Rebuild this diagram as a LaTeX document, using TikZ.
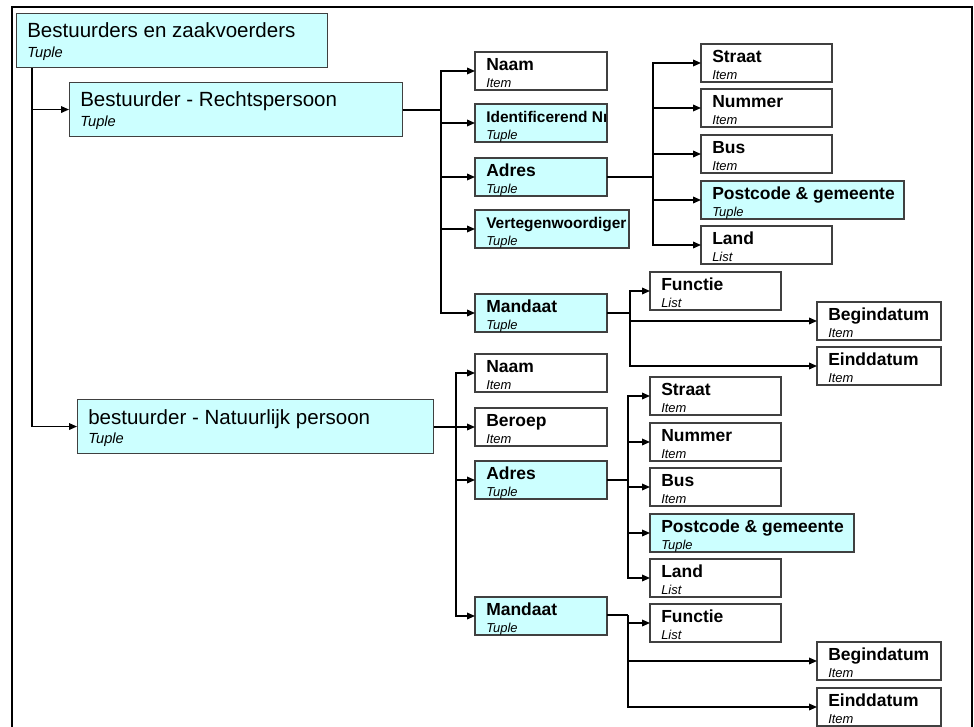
\documentclass[tikz,border=0pt]{standalone}
\usepackage{fontspec}
\setmainfont{Liberation Sans}
\usetikzlibrary{arrows.meta}

\definecolor{tuplefill}{HTML}{CCFFFF}
\definecolor{boxline}{HTML}{404040}

\tikzset{
  x=0.75pt, y=-0.75pt,
  frame/.style={line width=1.6pt, black},
  itembox/.style={fill=white, rectangle, outer sep=0pt,
    inner sep=0pt, anchor=north west, minimum height=38*0.75pt},
  tuplebox/.style={itembox, fill=tuplefill},
  boxborder/.style={draw=boxline, line width=0.8pt},
  bigbox/.style={draw=boxline, line width=0.8pt, fill=tuplefill, rectangle,
    inner sep=0pt, anchor=north west, minimum height=54*0.75pt},
  bigtitle/.style={font=\fontsize{15.4pt}{18pt}\selectfont, inner sep=0pt, anchor=base west},
  bigsub/.style={font=\fontsize{11pt}{13pt}\selectfont\itshape, inner sep=0pt, anchor=base west},
  smalltitle/.style={font=\fontsize{13.1pt}{15pt}\selectfont\bfseries, inner sep=0pt, anchor=base west},
  narrowtitle/.style={font=\fontsize{11.6pt}{14pt}\selectfont\bfseries, inner sep=0pt, anchor=base west},
  smallsub/.style={font=\fontsize{9.7pt}{11pt}\selectfont\itshape, inner sep=0pt, anchor=base west},
  conn/.style={line width=1pt, black, -{Triangle[length=6pt,width=5pt]}},
  stub/.style={line width=1.5pt, black},
}

% #1 name, #2 box style, #3 x, #4 y, #5 width (px), #6 title style, #7 title, #8 subtitle
% the title is clipped to the box, as long names run into the right edge
\newcommand{\fieldbox}[8]{%
  \node[#2, minimum width=#5*0.75pt] (#1) at (#3,#4) {};
  \begin{scope}
    \clip (#1.north west) rectangle (#1.south east);
    \node[#6] at ([shift={(11,18.5)}]#1.north west) {#7};
  \end{scope}
  \draw[boxborder] (#1.north west) rectangle (#1.south east);
  \node[smallsub] at ([shift={(11,35.5)}]#1.north west) {#8};
}
% #1 name, #2 x, #3 y, #4 width (px), #5 title, #6 subtitle
\newcommand{\headbox}[6]{%
  \node[bigbox, minimum width=#4*0.75pt] (#1) at (#2,#3) {};
  \node[bigtitle] at ([shift={(11,25)}]#1.north west) {#5};
  \node[bigsub] at ([shift={(11,44.5)}]#1.north west) {#6};
}

\begin{document}
\begin{tikzpicture}
\useasboundingbox (0,0) rectangle (974,727);

% outer frame, open at the bottom
\draw[frame] (12,728) -- (12,7) -- (972,7) -- (972,728);

% top level and the two kinds of bestuurder
\headbox{root}{16}{13}{311}{Bestuurders en zaakvoerders}{Tuple}
\headbox{rp}{69}{82}{333}{Bestuurder - Rechtspersoon}{Tuple}
\headbox{np}{77}{399}{356}{bestuurder - Natuurlijk persoon}{Tuple}

% Rechtspersoon fields
\fieldbox{rnaam}{itembox}{475}{52}{132}{smalltitle}{Naam}{Item}
\fieldbox{rid}{tuplebox}{475}{104}{132}{narrowtitle}{Identificerend Nr}{Tuple}
\fieldbox{radres}{tuplebox}{475}{158}{132}{smalltitle}{Adres}{Tuple}
\fieldbox{rvert}{tuplebox}{475}{210}{154}{narrowtitle}{Vertegenwoordiger}{Tuple}
\fieldbox{rmand}{tuplebox}{475}{294}{132}{smalltitle}{Mandaat}{Tuple}

% Rechtspersoon address
\fieldbox{rstraat}{itembox}{701}{44}{131}{smalltitle}{Straat}{Item}
\fieldbox{rnummer}{itembox}{701}{89}{131}{smalltitle}{Nummer}{Item}
\fieldbox{rbus}{itembox}{701}{135}{131}{smalltitle}{Bus}{Item}
\fieldbox{rpost}{tuplebox}{701}{181}{203}{smalltitle}{Postcode \& gemeente}{Tuple}
\fieldbox{rland}{itembox}{701}{226}{131}{smalltitle}{Land}{List}

% Rechtspersoon mandate
\fieldbox{rfunctie}{itembox}{650}{272}{131}{smalltitle}{Functie}{List}
\fieldbox{rbegin}{itembox}{817}{302}{124}{smalltitle}{Begindatum}{Item}
\fieldbox{reind}{itembox}{817}{347}{124}{smalltitle}{Einddatum}{Item}

% Natuurlijk persoon fields
\fieldbox{nnaam}{itembox}{475}{354}{132}{smalltitle}{Naam}{Item}
\fieldbox{nberoep}{itembox}{475}{408}{132}{smalltitle}{Beroep}{Item}
\fieldbox{nadres}{tuplebox}{475}{461}{132}{smalltitle}{Adres}{Tuple}
\fieldbox{nmand}{tuplebox}{475}{597}{132}{smalltitle}{Mandaat}{Tuple}

% Natuurlijk persoon address
\fieldbox{nstraat}{itembox}{650}{377}{131}{smalltitle}{Straat}{Item}
\fieldbox{nnummer}{itembox}{650}{423}{131}{smalltitle}{Nummer}{Item}
\fieldbox{nbus}{itembox}{650}{468}{131}{smalltitle}{Bus}{Item}
\fieldbox{npost}{tuplebox}{650}{514}{204}{smalltitle}{Postcode \& gemeente}{Tuple}
\fieldbox{nland}{itembox}{650}{559}{131}{smalltitle}{Land}{List}

% Natuurlijk persoon mandate
\fieldbox{nfunctie}{itembox}{650}{604}{131}{smalltitle}{Functie}{List}
\fieldbox{nbegin}{itembox}{817}{642}{124}{smalltitle}{Begindatum}{Item}
\fieldbox{neind}{itembox}{817}{688}{124}{smalltitle}{Einddatum}{Item}

% connectors from the top level
\coordinate (rootfork) at ([shift={(16,0)}]root.south west);
\draw[conn] (rootfork) |- (rp.west);
\draw[conn] (rootfork) |- (np.west);

% Rechtspersoon branches
\draw[stub] (rp.east) -- ++(38,0) coordinate (rpfork);
\foreach \t in {rnaam,rid,radres,rvert,rmand}
  \draw[conn] (rpfork) |- (\t.west);

\draw[stub] (radres.east) -- ++(46,0) coordinate (rafork);
\foreach \t in {rstraat,rnummer,rbus,rpost,rland}
  \draw[conn] (rafork) |- (\t.west);

\draw[stub] (rmand.east) -- ++(23,0) coordinate (rmfork);
\foreach \t in {rfunctie,rbegin,reind}
  \draw[conn] (rmfork) |- (\t.west);

% Natuurlijk persoon branches
\draw[stub] (np.east) -- ++(22,0) coordinate (npfork);
\foreach \t in {nnaam,nberoep,nadres,nmand}
  \draw[conn] (npfork) |- (\t.west);

\draw[stub] (nadres.east) -- ++(21,0) coordinate (nafork);
\foreach \t in {nstraat,nnummer,nbus,npost,nland}
  \draw[conn] (nafork) |- (\t.west);

\draw[stub] ([yshift=0.75pt]nmand.east) -- ++(21,0) coordinate (nmfork);
\foreach \t in {nfunctie,nbegin,neind}
  \draw[conn] (nmfork) |- (\t.west);
\end{tikzpicture}
\end{document}
